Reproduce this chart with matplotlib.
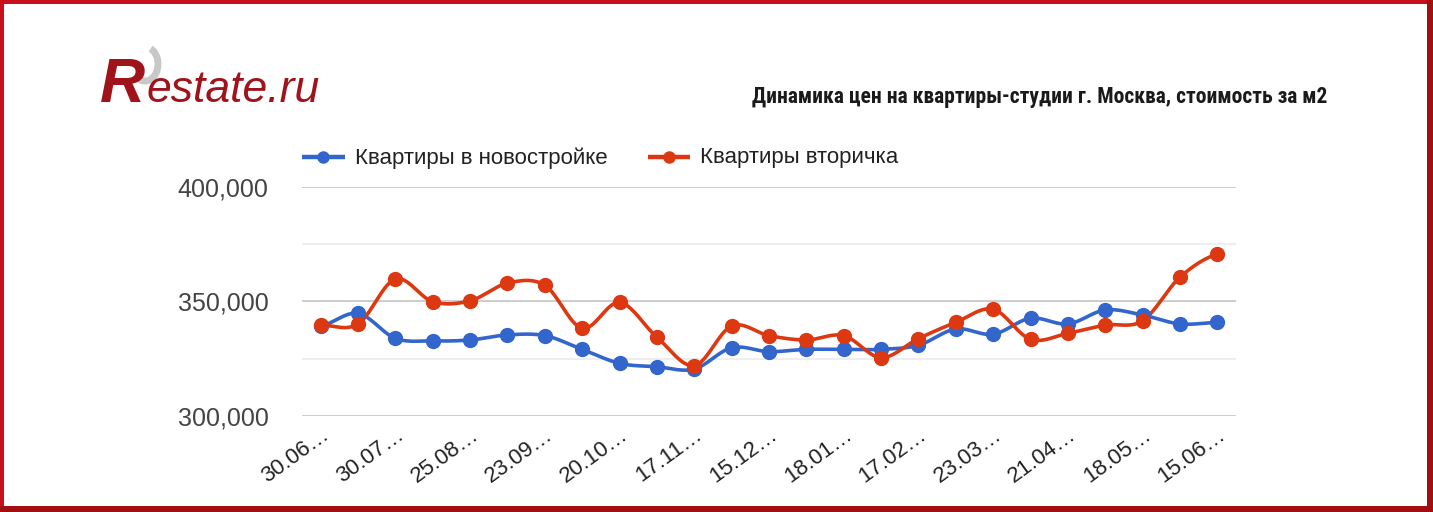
import matplotlib
matplotlib.use("Agg")
import matplotlib.pyplot as plt
from matplotlib import font_manager
from matplotlib.patches import Rectangle, Arc
import numpy as np

# data
dates = ["30.06…", "", "30.07…", "", "25.08…", "", "23.09…", "", "20.10…", "",
         "17.11…", "", "15.12…", "", "18.01…", "", "17.02…", "", "23.03…", "",
         "21.04…", "", "18.05…", "", "15.06…"]
new_build = [339300, 344800, 333900, 332800, 333200, 335400, 335100, 329100, 323000,
             321500, 320500, 329800, 328100, 329100, 329100, 329100, 330900, 338000,
             335700, 342700, 340200, 346300, 344100, 340200, 340900]
resale = [339700, 340200, 359800, 349900, 350300, 358000, 357100, 338300, 349600,
          334400, 322000, 339300, 335100, 333200, 335100, 325500, 333800, 340900,
          346600, 333500, 336100, 339700, 341600, 360600, 370700]
series_names = ["Квартиры в новостройке", "Квартиры вторичка"]
colors = ["#3366cc", "#dc3912"]
title = "Динамика цен на квартиры-студии г. Москва, стоимость за м2"

W, H = 1433, 512
fig = plt.figure(figsize=(W / 100, H / 100), dpi=100)
fig.patch.set_facecolor("white")

available = {f.name for f in font_manager.fontManager.ttflist}
base_font = "Liberation Sans" if "Liberation Sans" in available else "DejaVu Sans"
narrow_font = base_font
for name in ["Roboto Condensed", "Liberation Sans Narrow", "DejaVu Sans Condensed"]:
    if name in available:
        narrow_font = name
        break


def smooth(y, steps=20):
    # catmull-rom curve through the points, like google's "function" curve
    y = np.asarray(y, dtype=float)
    n = len(y)
    xs, ys = [], []
    for i in range(n - 1):
        p0 = y[max(i - 1, 0)]
        p1 = y[i]
        p2 = y[i + 1]
        p3 = y[min(i + 2, n - 1)]
        t = np.linspace(0, 1, steps, endpoint=False)
        a = 0.5 * (2 * p1 + (-p0 + p2) * t + (2 * p0 - 5 * p1 + 4 * p2 - p3) * t ** 2
                   + (-p0 + 3 * p1 - 3 * p2 + p3) * t ** 3)
        xs.append(i + t)
        ys.append(a)
    xs.append([n - 1])
    ys.append([y[-1]])
    return np.concatenate(xs), np.concatenate(ys)


ax = fig.add_axes([302 / W, (H - 416) / H, 934 / W, 229 / H])
x = np.arange(len(dates))
for vals, c in zip([new_build, resale], colors):
    sx, sy = smooth(vals)
    ax.plot(sx, sy, color=c, lw=2.6, solid_capstyle="round", zorder=3)
    ax.plot(x, vals, "o", color=c, ms=10, zorder=4)

ax.set_xlim(-0.5, len(dates) - 0.5)
ax.set_ylim(300000, 400000)
ax.set_yticks([300000, 350000, 400000])
ax.set_yticklabels(["300,000", "350,000", "400,000"])
for v in [325000, 375000]:
    ax.axhline(v, color="#ebebeb", lw=1.2, zorder=1)
for v in [300000, 350000, 400000]:
    ax.axhline(v, color="#cccccc", lw=1.4, zorder=1)
for s in ax.spines.values():
    s.set_visible(False)
ax.tick_params(axis="both", length=0)
ax.tick_params(axis="y", pad=24, labelsize=18, labelcolor="#444444")
for lab in ax.get_yticklabels():
    lab.set_fontfamily(base_font)

ticks = [i for i, d in enumerate(dates) if d]
ax.set_xticks(ticks)
ax.set_xticklabels([dates[i] for i in ticks], rotation=36, ha="right", va="top",
                   rotation_mode="anchor", fontsize=16, color="#222222",
                   fontfamily=base_font)
ax.tick_params(axis="x", pad=6)

# overlay in pixel coordinates for logo, title, legend and frame
ov = fig.add_axes([0, 0, 1, 1], zorder=-1)
ov.set_xlim(0, W)
ov.set_ylim(H, 0)
ov.axis("off")

# logo
ov.add_patch(Arc((145, 64), 26, 34, theta1=-70, theta2=110, color="#c8c8c8", lw=5))
ov.text(100, 102, "R", fontsize=45, fontweight="bold", fontstyle="italic",
        color="#a0131b", fontfamily=base_font, va="baseline", ha="left")
ov.text(147, 102, "estate.ru", fontsize=32, fontstyle="italic",
        color="#a0131b", fontfamily=base_font, va="baseline", ha="left")

# title fitted to its width in the reference
t = ov.text(1327, 103, title, fontsize=20, color="#1a1a1a", fontfamily=narrow_font,
            fontweight="bold", ha="right", va="baseline")
fig.canvas.draw()
w = t.get_window_extent().width
t.set_fontsize(20 * 575 / w)

# legend
legend_x = [(302, 345, 355), (648, 690, 700)]
for (x0, x1, tx), name, c in zip(legend_x, series_names, colors):
    ov.plot([x0, x1], [157, 157], color=c, lw=3.2, solid_capstyle="butt")
    ov.plot([(x0 + x1) / 2], [157], "o", color=c, ms=8)
    ov.text(tx, 158, name, fontsize=16, color="#222222", fontfamily=base_font,
            ha="left", va="center")

# red frame
ov.add_patch(Rectangle((0, 0), W, 4, color="#c8101a", lw=0))
ov.add_patch(Rectangle((0, 0), 4, H, color="#c8101a", lw=0))
ov.add_patch(Rectangle((0, H - 6), W, 6, color="#a20f12", lw=0))
ov.add_patch(Rectangle((W - 6, 0), 6, H, color="#a20f12", lw=0))

fig.savefig("out.png", dpi=100, facecolor="white")
